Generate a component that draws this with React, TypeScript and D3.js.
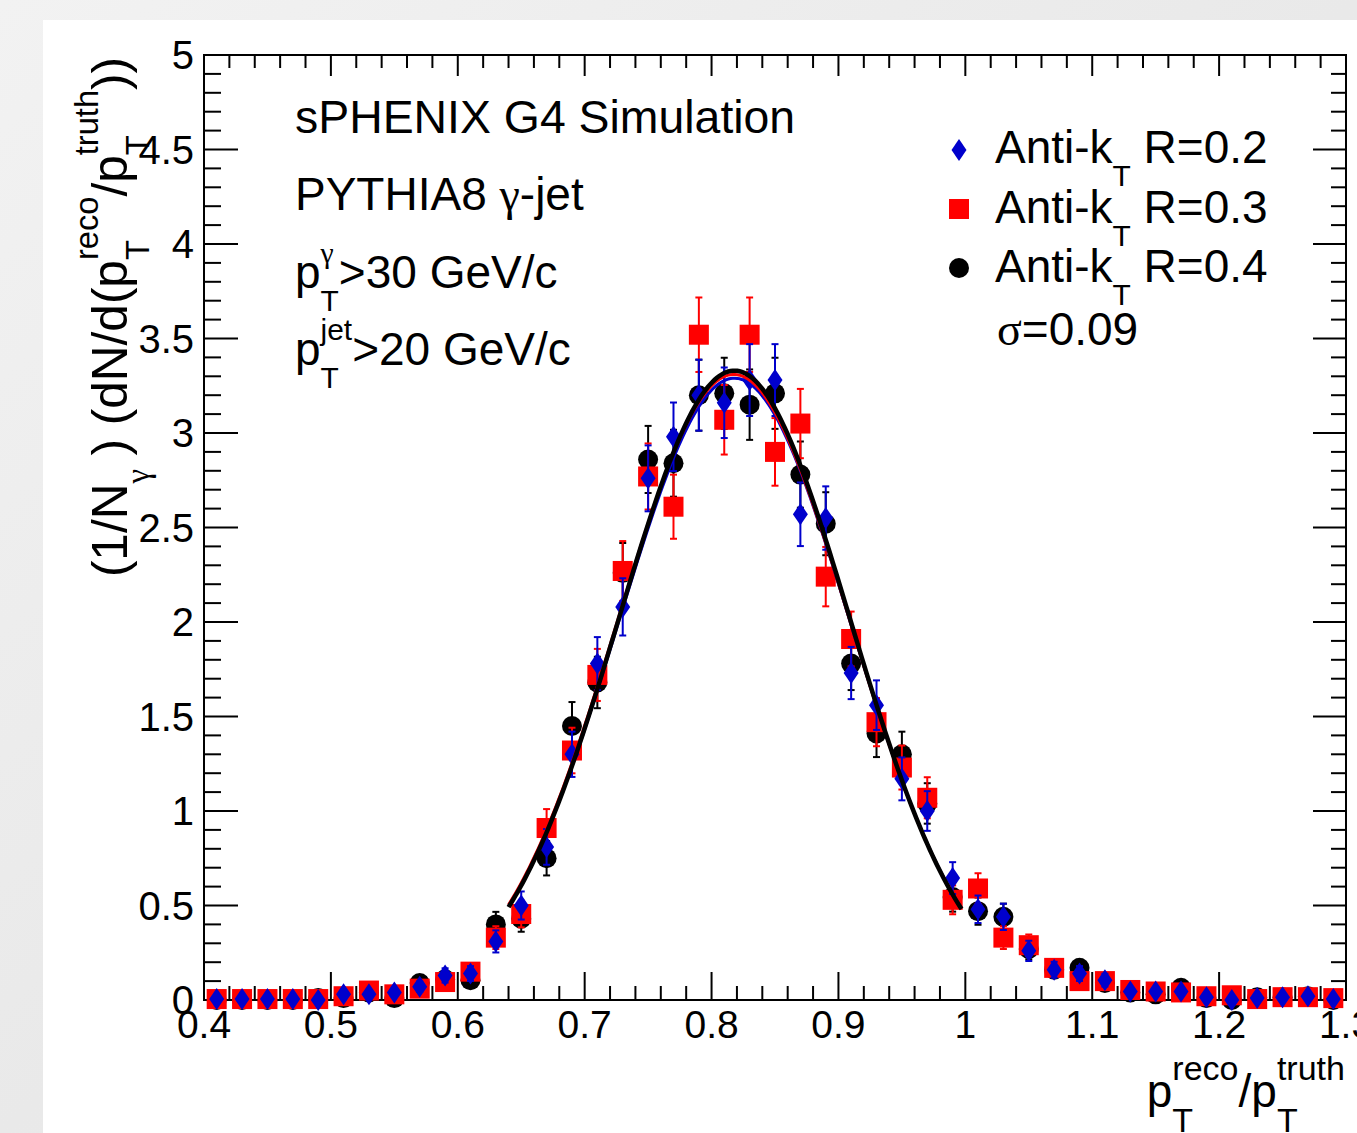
import React from "react";
import * as d3 from "d3";

// ---------- data ----------
const binCenters = [
  0.41, 0.43, 0.45, 0.47, 0.49, 0.51, 0.53, 0.55, 0.57, 0.59, 0.61, 0.63, 0.65, 0.67, 0.69,
  0.71, 0.73, 0.75, 0.77, 0.79, 0.81, 0.83, 0.85, 0.87, 0.89, 0.91, 0.93, 0.95, 0.97, 0.99,
  1.01, 1.03, 1.05, 1.07, 1.09, 1.11, 1.13, 1.15, 1.17, 1.19, 1.21, 1.23, 1.25, 1.27, 1.29,
];
const r02Values = [
  0.005, 0.005, 0.005, 0.005, 0.0, 0.03, 0.03, 0.04, 0.07, 0.13, 0.14, 0.31, 0.5, 0.81, 1.3,
  1.78, 2.08, 2.76, 2.98, 3.2, 3.16, 3.28, 3.28, 2.57, 2.55, 1.73, 1.56, 1.17, 1.0, 0.645,
  0.48, 0.44, 0.26, 0.16, 0.14, 0.105, 0.045, 0.045, 0.045, 0.015, 0.0, 0.01, 0.015, 0.02, 0.005,
];
const r03Values = [
  0.005, 0.005, 0.005, 0.005, 0.005, 0.02, 0.05, 0.03, 0.06, 0.095, 0.15, 0.33, 0.455, 0.91, 1.32,
  1.72, 2.27, 2.77, 2.61, 3.52, 3.07, 3.52, 2.9, 3.05, 2.24, 1.91, 1.47, 1.23, 1.07, 0.53,
  0.59, 0.33, 0.29, 0.17, 0.1, 0.1, 0.053, 0.045, 0.04, 0.02, 0.025, 0.005, 0.015, 0.015, 0.01,
];
const r04Values = [
  0.0, 0.0, 0.0, 0.0, 0.01, 0.01, 0.04, 0.01, 0.09, 0.11, 0.105, 0.4, 0.43, 0.75, 1.45,
  1.68, 2.26, 2.86, 2.84, 3.2, 3.21, 3.15, 3.21, 2.78, 2.52, 1.78, 1.41, 1.3, 1.04, 0.545,
  0.47, 0.44, 0.27, 0.16, 0.17, 0.09, 0.04, 0.03, 0.065, 0.01, 0.0, 0.015, 0.015, 0.02, 0.0,
];
// statistical error scale: err = errScale * sqrt(value)
const errScale = 0.105;

// Gaussian fit parameters [R=0.2, R=0.3, R=0.4]
const fitAmps = [3.29, 3.31, 3.33];
const fitMeans = [0.818, 0.8175, 0.818];
const fitSigmas = [0.0915, 0.0915, 0.091];
const fitRange = [0.64, 0.997];

const xTickValues = [0.4, 0.5, 0.6, 0.7, 0.8, 0.9, 1.0, 1.1, 1.2, 1.3];
const xTickLabels = ["0.4", "0.5", "0.6", "0.7", "0.8", "0.9", "1", "1.1", "1.2", "1.3"];
const yTickValues = [0, 0.5, 1, 1.5, 2, 2.5, 3, 3.5, 4, 4.5, 5];
const yTickLabels = ["0", "0.5", "1", "1.5", "2", "2.5", "3", "3.5", "4", "4.5", "5"];
const legendLabels = ["R=0.2", "R=0.3", "R=0.4"];

// ---------- style ----------
const W = 1357;
const H = 1133;
const FONT = '"Liberation Sans", Arial, Helvetica, sans-serif';
const SERIF = '"Liberation Serif", "DejaVu Serif", "Times New Roman", serif';
const BLUE = "#0000cc";
const RED = "#ff0000";
const BLACK = "#000000";

let _ctx: CanvasRenderingContext2D | null = null;
function textW(s: string, size: number, fam: string): number {
  if (!_ctx) {
    const c = document.createElement("canvas");
    _ctx = c.getContext("2d");
  }
  if (!_ctx) return s.length * size * 0.55;
  _ctx.font = `${size}px ${fam}`;
  return _ctx.measureText(s).width;
}

type Part = { t?: string; sub?: string; sup?: string; serif?: boolean; subSerif?: boolean; supSerif?: boolean };

function Rich(props: {
  x: number; y: number; size: number; parts: Part[]; anchor?: "start" | "end" | "middle";
  small?: number; up?: number; down?: number; fill?: string;
}) {
  const { x, y, size, parts, anchor = "start", small = 0.7, up = 0.55, down = 0.5, fill = "#000" } = props;
  const items: { s: string; x: number; dy: number; size: number; fam: string }[] = [];
  let cx = 0;
  for (const p of parts) {
    if (p.t) {
      const fam = p.serif ? SERIF : FONT;
      items.push({ s: p.t, x: cx, dy: 0, size, fam });
      cx += textW(p.t, size, fam);
    }
    if (p.sub || p.sup) {
      const ss = size * small;
      let w = 0;
      if (p.sup) {
        const fam = p.supSerif ? SERIF : FONT;
        items.push({ s: p.sup, x: cx, dy: -up * size, size: ss, fam });
        w = Math.max(w, textW(p.sup, ss, fam));
      }
      if (p.sub) {
        const fam = p.subSerif ? SERIF : FONT;
        items.push({ s: p.sub, x: cx, dy: down * size, size: ss, fam });
        w = Math.max(w, textW(p.sub, ss, fam));
      }
      cx += w;
    }
  }
  const off = anchor === "end" ? -cx : anchor === "middle" ? -cx / 2 : 0;
  return (
    <g>
      {items.map((it, i) => (
        <text
          key={i}
          x={x + off + it.x}
          y={y + it.dy}
          fontSize={it.size}
          fontFamily={it.fam}
          fill={fill}
          xmlSpace="preserve"
          style={{ whiteSpace: "pre" }}
        >
          {it.s}
        </text>
      ))}
    </g>
  );
}

function Marker({ kind, cx, cy, color }: { kind: string; cx: number; cy: number; color: string }) {
  if (kind === "square") return <rect x={cx - 10} y={cy - 10} width={20} height={20} fill={color} />;
  if (kind === "circle") return <circle cx={cx} cy={cy} r={10} fill={color} />;
  return <path d={`M${cx},${cy - 11}L${cx + 7.5},${cy}L${cx},${cy + 11}L${cx - 7.5},${cy}Z`} fill={color} />;
}

export default function App() {
  const x = d3.scaleLinear().domain([0.4, 1.3]).range([204, 1346]);
  const y = d3.scaleLinear().domain([0, 5]).range([1000, 55]);
  const [x0, x1] = x.range();
  const [yb, yt] = y.range();

  const series = [
    { vals: r04Values, color: BLACK, kind: "circle" },
    { vals: r03Values, color: RED, kind: "square" },
    { vals: r02Values, color: BLUE, kind: "diamond" },
  ];

  const xMinor = d3.range(0, 46).map((i) => 0.4 + i * 0.02);
  const yMinor = d3.range(0, 51).map((i) => i * 0.1);

  const fitColors = [BLUE, RED, BLACK];
  const fitWidths = [3, 3, 4.5];
  const fitXs = d3.range(0, 201).map((i) => fitRange[0] + ((fitRange[1] - fitRange[0]) * i) / 200);
  const line = d3.line<[number, number]>().x((d) => x(d[0])).y((d) => y(d[1])).curve(d3.curveLinear);

  const legendKinds = [
    { kind: "diamond", color: BLUE },
    { kind: "square", color: RED },
    { kind: "circle", color: BLACK },
  ];

  return (
    <svg width={W} height={H} style={{ position: "absolute", left: 0, top: 0, display: "block" }}>
      <defs>
        <linearGradient id="bg" x1="0" y1="0" x2="1" y2="1">
          <stop offset="0" stopColor="#f2f2f2" />
          <stop offset="0.5" stopColor="#e9e9e9" />
          <stop offset="1" stopColor="#f0f0f0" />
        </linearGradient>
      </defs>
      <rect x={0} y={0} width={W} height={H} fill="url(#bg)" />
      <rect x={43} y={20} width={W - 43} height={H - 20} fill="#ffffff" />

      {/* ticks */}
      <g stroke="#000" strokeWidth={2}>
        {xMinor.map((v, i) => {
          const major = i % 5 === 0;
          return (
            <g key={"xt" + i}>
              <line x1={x(v)} x2={x(v)} y1={yb} y2={yb - (major ? 28 : 14)} />
              <line x1={x(v)} x2={x(v)} y1={yt} y2={yt + (major ? 21 : 13)} />
            </g>
          );
        })}
        {yMinor.map((v, i) => {
          const major = i % 5 === 0;
          return (
            <g key={"yt" + i}>
              <line x1={x0} x2={x0 + (major ? 34 : 17)} y1={y(v)} y2={y(v)} />
              <line x1={x1} x2={x1 - (major ? 33 : 15)} y1={y(v)} y2={y(v)} />
            </g>
          );
        })}
      </g>
      <rect x={x0} y={yt} width={x1 - x0} height={yb - yt} fill="none" stroke="#000" strokeWidth={2} />

      {/* tick labels */}
      {xTickValues.map((v, i) => (
        <text key={"xl" + i} x={x(v)} y={1038} fontSize={39} fontFamily={FONT} textAnchor="middle">
          {xTickLabels[i]}
        </text>
      ))}
      {yTickValues.map((v, i) => (
        <text key={"yl" + i} x={194} y={y(v) + 14} fontSize={40} fontFamily={FONT} textAnchor="end">
          {yTickLabels[i]}
        </text>
      ))}

      {/* data */}
      {series.map((s, si) => (
        <g key={"s" + si}>
          {s.vals.map((v, i) => {
            const e = errScale * Math.sqrt(v);
            const cx = x(binCenters[i]);
            return (
              <g key={i}>
                {e > 0.02 && (
                  <g stroke={s.color} strokeWidth={2}>
                    <line x1={cx} x2={cx} y1={y(v + e)} y2={y(v - e)} />
                    <line x1={cx - 3.5} x2={cx + 3.5} y1={y(v + e)} y2={y(v + e)} />
                    <line x1={cx - 3.5} x2={cx + 3.5} y1={y(v - e)} y2={y(v - e)} />
                  </g>
                )}
                <Marker kind={s.kind} cx={cx} cy={y(v)} color={s.color} />
              </g>
            );
          })}
        </g>
      ))}

      {/* fits */}
      {fitAmps.map((a, k) => (
        <path
          key={"fit" + k}
          d={line(fitXs.map((t) => [t, a * Math.exp(-((t - fitMeans[k]) ** 2) / (2 * fitSigmas[k] ** 2))])) || ""}
          fill="none"
          stroke={fitColors[k]}
          strokeWidth={fitWidths[k]}
        />
      ))}

      {/* annotations */}
      <text x={295} y={133} fontSize={46.4} fontFamily={FONT}>sPHENIX G4 Simulation</text>
      <Rich x={295} y={210} size={46} parts={[{ t: "PYTHIA8 " }, { t: "γ", serif: true }, { t: "-jet" }]} />
      <Rich x={295} y={288} size={46} small={0.65} parts={[{ t: "p", sub: "T", sup: "γ", supSerif: true }, { t: ">30 GeV/c" }]} />
      <Rich x={295} y={365} size={46} small={0.65} parts={[{ t: "p", sub: "T", sup: "jet" }, { t: ">20 GeV/c" }]} />

      {/* legend */}
      {legendKinds.map((l, i) => (
        <g key={"lg" + i}>
          <Marker kind={l.kind} cx={959} cy={150 + 59 * i} color={l.color} />
          <Rich x={995} y={163 + 59.5 * i} size={46} small={0.65} parts={[{ t: "Anti-k", sub: "T" }, { t: " " + legendLabels[i] }]} />
        </g>
      ))}
      <Rich x={997} y={345} size={46} parts={[{ t: "σ", serif: true }, { t: "=0.09" }]} />

      {/* axis titles */}
      <Rich
        x={1345}
        y={1107}
        size={46}
        small={0.74}
        up={0.58}
        down={0.55}
        anchor="end"
        parts={[{ t: "p", sub: "T", sup: "reco" }, { t: "/p", sub: "T", sup: "truth" }]}
      />
      <g transform="translate(127,57) rotate(-90)">
        <Rich
          x={0}
          y={0}
          size={49.5}
          small={0.66}
          up={0.58}
          down={0.45}
          anchor="end"
          parts={[
            { t: "(1/N", sub: "γ", subSerif: true },
            { t: " ) (dN/d(p", sub: "T", sup: "reco" },
            { t: "/p", sub: "T", sup: "truth" },
            { t: "))" },
          ]}
        />
      </g>
    </svg>
  );
}
